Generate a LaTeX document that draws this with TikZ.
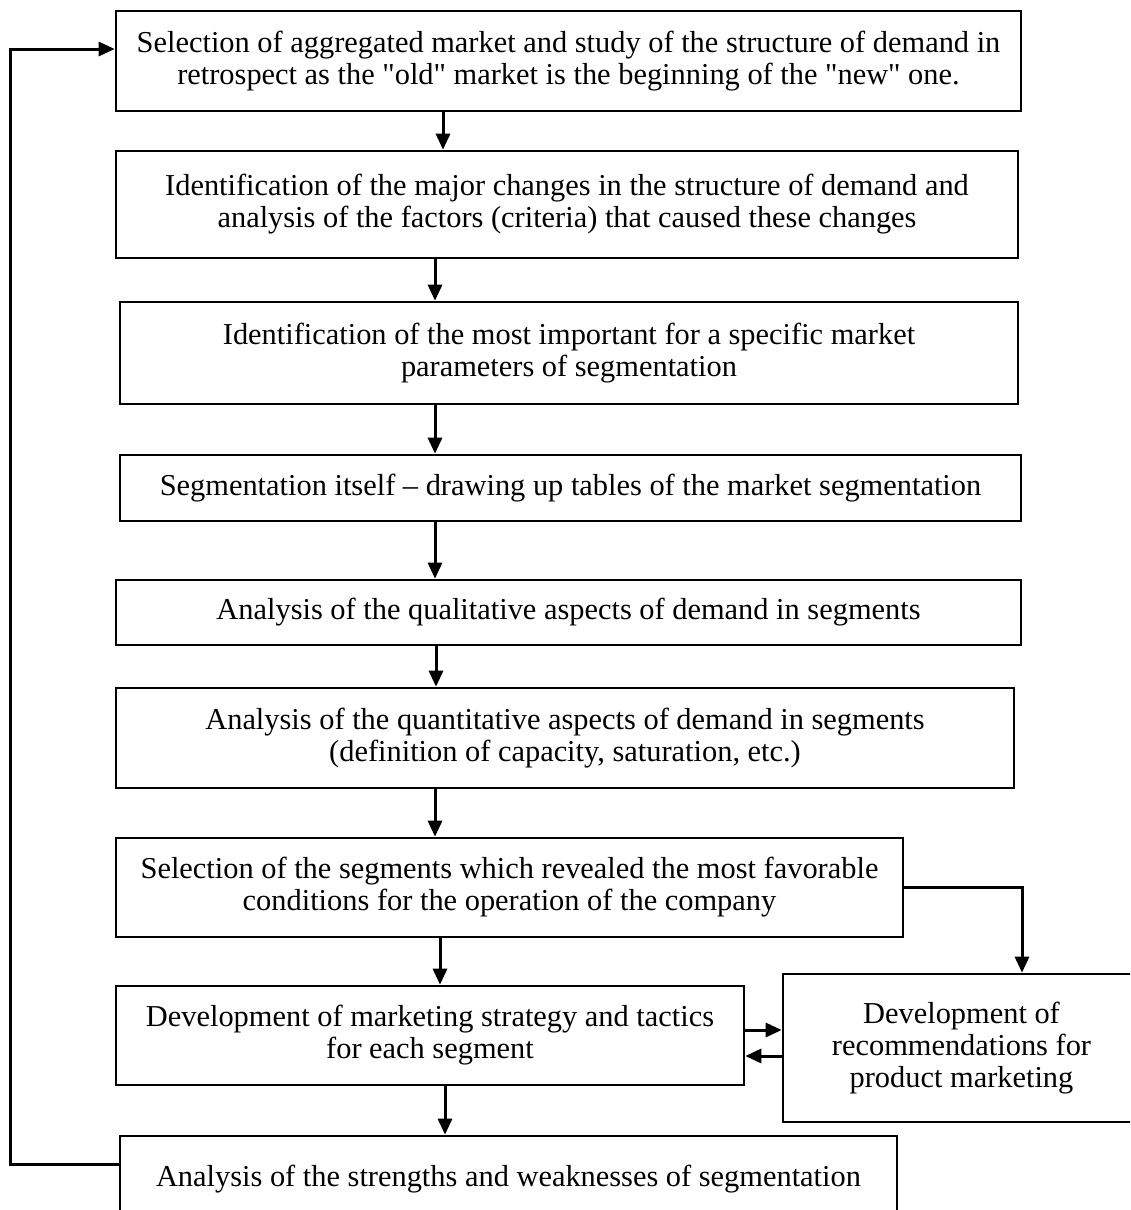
\documentclass[tikz,border=0pt]{standalone}
\usepackage{fontspec}
\setmainfont{Liberation Serif}[Ligatures=TeXOff]
\usetikzlibrary{arrows.meta}
\begin{document}
\begin{tikzpicture}[x=1pt,y=-1pt,
  box/.style={draw, line width=2.6pt, align=center, inner sep=0pt,
    font=\fontsize{30.4}{32}\selectfont},
  arr/.style={line width=3pt, line join=miter,
    -{Triangle[length=16pt,width=14pt]}}]
\clip (0,0) rectangle (1130,1210);
\fill[white] (0,0) rectangle (1130,1210);

\node[box, minimum width=905pt, minimum height=100pt] (b1) at (568.5,61)
  {Selection of aggregated market and study of the structure of demand in\\
   retrospect as the "old" market is the beginning of the "new" one.};
\node[box, minimum width=902pt, minimum height=107pt] (b2) at (567,204.5)
  {Identification of the major changes in the structure of demand and\\
   analysis of the factors (criteria) that caused these changes};
\node[box, minimum width=898pt, minimum height=102pt] (b3) at (569,353)
  {Identification of the most important for a specific market\\
   parameters of segmentation};
\node[box, minimum width=901pt, minimum height=66pt] (b4) at (570.5,488)
  {Segmentation itself – drawing up tables of the market segmentation};
\node[box, minimum width=905pt, minimum height=65pt] (b5) at (568.5,612.5)
  {Analysis of the qualitative aspects of demand in segments};
\node[box, minimum width=898pt, minimum height=100pt] (b6) at (565,738)
  {Analysis of the quantitative aspects of demand in segments\\
   (definition of capacity, saturation, etc.)};
\node[box, minimum width=787pt, minimum height=99pt] (b7) at (509.5,887.5)
  {Selection of the segments which revealed the most favorable\\
   conditions for the operation of the company};
\node[box, minimum width=628pt, minimum height=99pt] (b8) at (430,1035.5)
  {Development of marketing strategy and tactics\\ for each segment};
\node[box, minimum width=357pt, minimum height=148pt] (b9) at (961.5,1048)
  {Development of\\ recommendations for\\ product marketing};
\node[box, minimum width=777pt, minimum height=86pt] (b10) at (508.5,1179)
  {Analysis of the strengths and weaknesses of segmentation};

% main chain
\draw[arr] ([xshift=-125.5pt]b1.south) -- ([xshift=-125.5pt]b1.south |- b2.north);
\draw[arr] ([xshift=-132pt]b2.south) -- ([xshift=-132pt]b2.south |- b3.north);
\draw[arr] ([xshift=-134pt]b3.south) -- ([xshift=-134pt]b3.south |- b4.north);
\draw[arr] ([xshift=-135.5pt]b4.south) -- ([xshift=-135.5pt]b4.south |- b5.north);
\draw[arr] ([xshift=-132.5pt]b5.south) -- ([xshift=-132.5pt]b5.south |- b6.north);
\draw[arr] ([xshift=-130pt]b6.south) -- ([xshift=-130pt]b6.south |- b7.north);
\draw[arr] ([xshift=-69.5pt]b7.south) -- ([xshift=-69.5pt]b7.south |- b8.north);
\draw[arr] ([xshift=15pt]b8.south) -- ([xshift=15pt]b8.south |- b10.north);

% branch to recommendations
\draw[arr] (b7.east) -| ([xshift=60.5pt]b9.north);
\draw[arr] ([yshift=5.5pt]b8.east) -- ([yshift=5.5pt]b8.east -| b9.west);
\draw[arr] ([yshift=-20.5pt]b8.east -| b9.west) -- ([yshift=-20.5pt]b8.east);

% feedback loop
\coordinate (fb) at (10,600);
\draw[arr] ([yshift=15pt]b10.west) -| (fb) |- ([yshift=12pt]b1.west);
\end{tikzpicture}
\end{document}
